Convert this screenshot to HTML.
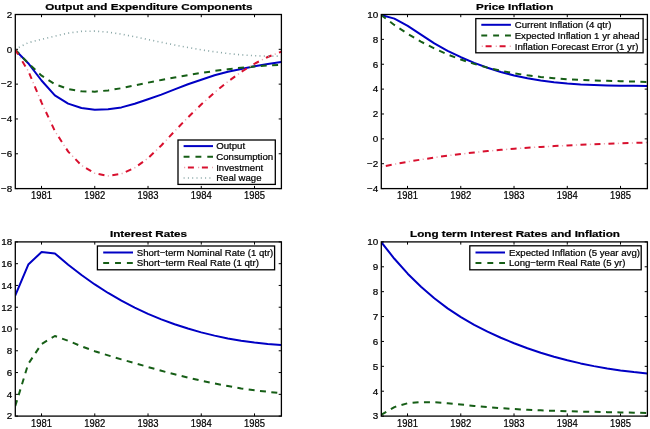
<!DOCTYPE html><html><head><meta charset="utf-8"><style>html,body{margin:0;padding:0;background:#fff;width:650px;height:429px;overflow:hidden}svg{display:block}text{font-family:"Liberation Sans",sans-serif;fill:#000;stroke:#000;stroke-width:0.22px}svg{will-change:transform}</style></head><body>
<svg width="650" height="429" viewBox="0 0 650 429">
<rect width="650" height="429" fill="#fff"/>
<defs><clipPath id="cTL"><rect x="15.3" y="13.5" width="266.09999999999997" height="176.1"/></clipPath><clipPath id="cTR"><rect x="381.3" y="13.5" width="266.09999999999997" height="176.1"/></clipPath><clipPath id="cBL"><rect x="15.3" y="240.9" width="266.09999999999997" height="176.20000000000002"/></clipPath><clipPath id="cBR"><rect x="381.3" y="240.9" width="266.09999999999997" height="176.20000000000002"/></clipPath></defs>
<path d="M41.52,188.60v-2.7 M41.52,14.50v2.7" stroke="#000" stroke-width="1"/>
<text x="31.02" y="199.00" font-size="10.3" textLength="21.0" lengthAdjust="spacingAndGlyphs">1981</text>
<path d="M94.78,188.60v-2.7 M94.78,14.50v2.7" stroke="#000" stroke-width="1"/>
<text x="84.28" y="199.00" font-size="10.3" textLength="21.0" lengthAdjust="spacingAndGlyphs">1982</text>
<path d="M148.03,188.60v-2.7 M148.03,14.50v2.7" stroke="#000" stroke-width="1"/>
<text x="137.53" y="199.00" font-size="10.3" textLength="21.0" lengthAdjust="spacingAndGlyphs">1983</text>
<path d="M201.28,188.60v-2.7 M201.28,14.50v2.7" stroke="#000" stroke-width="1"/>
<text x="190.78" y="199.00" font-size="10.3" textLength="21.0" lengthAdjust="spacingAndGlyphs">1984</text>
<path d="M254.53,188.60v-2.7 M254.53,14.50v2.7" stroke="#000" stroke-width="1"/>
<text x="244.03" y="199.00" font-size="10.3" textLength="21.0" lengthAdjust="spacingAndGlyphs">1985</text>
<path d="M15.30,14.50h2.7 M281.40,14.50h-2.7" stroke="#000" stroke-width="1"/>
<text x="12.30" y="17.80" font-size="9.9" text-anchor="end">2</text>
<path d="M15.30,49.32h2.7 M281.40,49.32h-2.7" stroke="#000" stroke-width="1"/>
<text x="12.30" y="52.62" font-size="9.9" text-anchor="end">0</text>
<path d="M15.30,84.14h2.7 M281.40,84.14h-2.7" stroke="#000" stroke-width="1"/>
<text x="12.30" y="87.44" font-size="9.9" text-anchor="end">−2</text>
<path d="M15.30,118.96h2.7 M281.40,118.96h-2.7" stroke="#000" stroke-width="1"/>
<text x="12.30" y="122.26" font-size="9.9" text-anchor="end">−4</text>
<path d="M15.30,153.78h2.7 M281.40,153.78h-2.7" stroke="#000" stroke-width="1"/>
<text x="12.30" y="157.08" font-size="9.9" text-anchor="end">−6</text>
<path d="M15.30,188.60h2.7 M281.40,188.60h-2.7" stroke="#000" stroke-width="1"/>
<text x="12.30" y="191.90" font-size="9.9" text-anchor="end">−8</text>
<text x="45.30" y="9.60" font-size="9.6" font-weight="bold" textLength="207.2" lengthAdjust="spacingAndGlyphs">Output and Expenditure Components</text>
<path d="M14.90,49.60 L28.21,63.20 L41.52,80.50 L54.84,95.30 L68.15,103.60 L81.46,108.00 L94.78,109.70 L108.09,109.20 L121.40,107.40 L134.71,103.70 L148.03,99.30 L161.34,94.60 L174.65,89.40 L187.96,84.30 L201.28,79.80 L214.59,75.20 L227.90,71.80 L241.21,69.00 L254.53,66.30 L267.84,64.00 L281.15,62.00" fill="none" stroke="#0000c4" stroke-width="2.0" stroke-linejoin="round" clip-path="url(#cTL)"/>
<path d="M15.00,49.38 L28.30,63.23 L41.60,75.65 L54.90,84.17 L68.20,89.06 L81.50,91.34 L94.80,91.64 L108.10,90.43 L121.40,88.20 L134.70,85.45 L148.00,82.64 L161.30,79.97 L174.60,77.45 L187.90,75.10 L201.20,72.94 L214.50,70.98 L227.80,69.24 L241.10,67.74 L254.40,66.49 L267.70,65.50 L281.20,64.80" fill="none" stroke="#165e16" stroke-width="2.0" stroke-dasharray="6 5.4" stroke-linejoin="round" clip-path="url(#cTL)"/>
<path d="M15.00,49.40 L28.30,71.11 L41.60,102.61 L54.90,131.11 L68.20,151.64 L81.50,165.42 L94.80,173.29 L108.10,175.91 L121.40,173.88 L134.70,167.84 L148.00,158.27 L161.30,145.48 L174.60,131.21 L187.90,117.44 L201.20,104.48 L214.50,92.51 L227.80,81.65 L241.10,72.03 L254.40,63.77 L267.70,57.01 L281.20,51.80" fill="none" stroke="#d8102e" stroke-width="2.0" stroke-dasharray="6 8" stroke-linejoin="round" clip-path="url(#cTL)"/><path d="M15.00,49.40 L28.30,71.11 L41.60,102.61 L54.90,131.11 L68.20,151.64 L81.50,165.42 L94.80,173.29 L108.10,175.91 L121.40,173.88 L134.70,167.84 L148.00,158.27 L161.30,145.48 L174.60,131.21 L187.90,117.44 L201.20,104.48 L214.50,92.51 L227.80,81.65 L241.10,72.03 L254.40,63.77 L267.70,57.01 L281.20,51.80" fill="none" stroke="#e9a6b0" stroke-width="1.5" stroke-dasharray="1.2 12.8" stroke-dashoffset="-9.4" clip-path="url(#cTL)"/>
<path d="M15.00,49.36 L28.30,42.66 L41.60,39.36 L54.90,36.15 L68.20,33.12 L81.50,31.33 L94.80,31.12 L108.10,32.18 L121.40,34.16 L134.70,36.73 L148.00,39.54 L161.30,42.32 L174.60,44.99 L187.90,47.50 L201.20,49.78 L214.50,51.80 L227.80,53.51 L241.10,54.84 L254.40,55.74 L267.70,56.18 L281.20,56.08" fill="none" stroke="#86a4a4" stroke-width="1.6" stroke-dasharray="1.0 3.3" stroke-linejoin="round" clip-path="url(#cTL)"/>
<rect x="178" y="140" width="97.30" height="44.40" fill="#fff" stroke="#000" stroke-width="1.3"/>
<path d="M183.6,146.1H213" fill="none" stroke="#0000c4" stroke-width="2.0"/>
<text x="216.2" y="149.30" font-size="9.5" textLength="29" lengthAdjust="spacingAndGlyphs">Output</text>
<path d="M183.6,156.8H213" fill="none" stroke="#165e16" stroke-width="2.0" stroke-dasharray="5.9 5.95"/>
<text x="216.2" y="160.00" font-size="9.5" textLength="57" lengthAdjust="spacingAndGlyphs">Consumption</text>
<path d="M183.6,167.4H213" fill="none" stroke="#d8102e" stroke-width="2.0" stroke-dasharray="6 8" stroke-dashoffset="-4.3"/>
<path d="M183.6,167.4H213" fill="none" stroke="#e9a6b0" stroke-width="1.5" stroke-dasharray="1.2 12.8" stroke-dashoffset="-0.4"/>
<text x="216.2" y="170.60" font-size="9.5" textLength="47" lengthAdjust="spacingAndGlyphs">Investment</text>
<path d="M183.6,178.0H213" fill="none" stroke="#86a4a4" stroke-width="1.6" stroke-dasharray="1.0 3.3"/>
<text x="216.2" y="181.20" font-size="9.5" textLength="45.3" lengthAdjust="spacingAndGlyphs">Real wage</text>
<rect x="15.30" y="14.50" width="266.10" height="174.10" fill="none" stroke="#000" stroke-width="1.3"/>
<path d="M407.53,188.60v-2.7 M407.53,14.50v2.7" stroke="#000" stroke-width="1"/>
<text x="397.03" y="199.00" font-size="10.3" textLength="21.0" lengthAdjust="spacingAndGlyphs">1981</text>
<path d="M460.78,188.60v-2.7 M460.78,14.50v2.7" stroke="#000" stroke-width="1"/>
<text x="450.28" y="199.00" font-size="10.3" textLength="21.0" lengthAdjust="spacingAndGlyphs">1982</text>
<path d="M514.03,188.60v-2.7 M514.03,14.50v2.7" stroke="#000" stroke-width="1"/>
<text x="503.53" y="199.00" font-size="10.3" textLength="21.0" lengthAdjust="spacingAndGlyphs">1983</text>
<path d="M567.28,188.60v-2.7 M567.28,14.50v2.7" stroke="#000" stroke-width="1"/>
<text x="556.78" y="199.00" font-size="10.3" textLength="21.0" lengthAdjust="spacingAndGlyphs">1984</text>
<path d="M620.53,188.60v-2.7 M620.53,14.50v2.7" stroke="#000" stroke-width="1"/>
<text x="610.03" y="199.00" font-size="10.3" textLength="21.0" lengthAdjust="spacingAndGlyphs">1985</text>
<path d="M381.30,14.50h2.7 M647.40,14.50h-2.7" stroke="#000" stroke-width="1"/>
<text x="378.30" y="17.80" font-size="9.9" text-anchor="end">10</text>
<path d="M381.30,39.37h2.7 M647.40,39.37h-2.7" stroke="#000" stroke-width="1"/>
<text x="378.30" y="42.67" font-size="9.9" text-anchor="end">8</text>
<path d="M381.30,64.24h2.7 M647.40,64.24h-2.7" stroke="#000" stroke-width="1"/>
<text x="378.30" y="67.54" font-size="9.9" text-anchor="end">6</text>
<path d="M381.30,89.11h2.7 M647.40,89.11h-2.7" stroke="#000" stroke-width="1"/>
<text x="378.30" y="92.41" font-size="9.9" text-anchor="end">4</text>
<path d="M381.30,113.99h2.7 M647.40,113.99h-2.7" stroke="#000" stroke-width="1"/>
<text x="378.30" y="117.29" font-size="9.9" text-anchor="end">2</text>
<path d="M381.30,138.86h2.7 M647.40,138.86h-2.7" stroke="#000" stroke-width="1"/>
<text x="378.30" y="142.16" font-size="9.9" text-anchor="end">0</text>
<path d="M381.30,163.73h2.7 M647.40,163.73h-2.7" stroke="#000" stroke-width="1"/>
<text x="378.30" y="167.03" font-size="9.9" text-anchor="end">−2</text>
<path d="M381.30,188.60h2.7 M647.40,188.60h-2.7" stroke="#000" stroke-width="1"/>
<text x="378.30" y="191.90" font-size="9.9" text-anchor="end">−4</text>
<text x="476.10" y="9.60" font-size="9.6" font-weight="bold" textLength="77.2" lengthAdjust="spacingAndGlyphs">Price Inflation</text>
<path d="M381.10,14.89 L394.40,18.65 L407.70,25.80 L421.00,34.63 L434.30,43.41 L447.60,50.87 L460.90,57.21 L474.20,62.85 L487.50,67.81 L500.80,72.00 L514.10,75.48 L527.40,78.31 L540.70,80.56 L554.00,82.30 L567.30,83.59 L580.60,84.51 L593.90,85.12 L607.20,85.50 L620.50,85.71 L633.80,85.82 L647.20,85.90" fill="none" stroke="#0000c4" stroke-width="2.0" stroke-linejoin="round" clip-path="url(#cTR)"/>
<path d="M381.00,14.96 L394.30,24.93 L407.60,33.78 L420.90,41.60 L434.20,48.45 L447.50,54.41 L460.80,59.54 L474.10,63.91 L487.40,67.61 L500.70,70.70 L514.00,73.24 L527.30,75.30 L540.60,76.94 L553.90,78.21 L567.20,79.17 L580.50,79.89 L593.80,80.43 L607.10,80.84 L620.40,81.18 L633.70,81.52 L647.00,81.91" fill="none" stroke="#165e16" stroke-width="2.0" stroke-dasharray="6 5.4" stroke-linejoin="round" clip-path="url(#cTR)"/>
<path d="M381.30,166.79 L394.60,164.17 L407.90,161.76 L421.20,159.55 L434.50,157.52 L447.80,155.67 L461.10,153.99 L474.40,152.47 L487.70,151.09 L501.00,149.86 L514.30,148.75 L527.60,147.76 L540.90,146.88 L554.20,146.09 L567.50,145.40 L580.80,144.78 L594.10,144.23 L607.40,143.73 L620.70,143.29 L634.00,142.88 L647.40,142.49" fill="none" stroke="#d8102e" stroke-width="2.0" stroke-dasharray="6 8" stroke-dashoffset="-4.6" stroke-linejoin="round" clip-path="url(#cTR)"/><path d="M381.30,166.79 L394.60,164.17 L407.90,161.76 L421.20,159.55 L434.50,157.52 L447.80,155.67 L461.10,153.99 L474.40,152.47 L487.70,151.09 L501.00,149.86 L514.30,148.75 L527.60,147.76 L540.90,146.88 L554.20,146.09 L567.50,145.40 L580.80,144.78 L594.10,144.23 L607.40,143.73 L620.70,143.29 L634.00,142.88 L647.40,142.49" fill="none" stroke="#e9a6b0" stroke-width="1.5" stroke-dasharray="1.2 12.8" stroke-dashoffset="-0.0" clip-path="url(#cTR)"/>
<rect x="475.8" y="18.6" width="167.30" height="34.20" fill="#fff" stroke="#000" stroke-width="1.3"/>
<path d="M481.3,24.8H510.9" fill="none" stroke="#0000c4" stroke-width="2.0"/>
<text x="514.7" y="28.00" font-size="9.5" textLength="96.7" lengthAdjust="spacingAndGlyphs">Current Inflation (4 qtr)</text>
<path d="M481.3,35.6H510.9" fill="none" stroke="#165e16" stroke-width="2.0" stroke-dasharray="5.9 5.95"/>
<text x="514.7" y="38.80" font-size="9.5" textLength="125" lengthAdjust="spacingAndGlyphs">Expected Inflation 1 yr ahead</text>
<path d="M481.3,46.3H510.9" fill="none" stroke="#d8102e" stroke-width="2.0" stroke-dasharray="6 8" stroke-dashoffset="-4.3"/>
<path d="M481.3,46.3H510.9" fill="none" stroke="#e9a6b0" stroke-width="1.5" stroke-dasharray="1.2 12.8" stroke-dashoffset="-0.4"/>
<text x="514.7" y="49.50" font-size="9.5" textLength="123.7" lengthAdjust="spacingAndGlyphs">Inflation Forecast Error (1 yr)</text>
<rect x="381.30" y="14.50" width="266.10" height="174.10" fill="none" stroke="#000" stroke-width="1.3"/>
<path d="M41.52,416.10v-2.7 M41.52,241.90v2.7" stroke="#000" stroke-width="1"/>
<text x="31.02" y="426.50" font-size="10.3" textLength="21.0" lengthAdjust="spacingAndGlyphs">1981</text>
<path d="M94.78,416.10v-2.7 M94.78,241.90v2.7" stroke="#000" stroke-width="1"/>
<text x="84.28" y="426.50" font-size="10.3" textLength="21.0" lengthAdjust="spacingAndGlyphs">1982</text>
<path d="M148.03,416.10v-2.7 M148.03,241.90v2.7" stroke="#000" stroke-width="1"/>
<text x="137.53" y="426.50" font-size="10.3" textLength="21.0" lengthAdjust="spacingAndGlyphs">1983</text>
<path d="M201.28,416.10v-2.7 M201.28,241.90v2.7" stroke="#000" stroke-width="1"/>
<text x="190.78" y="426.50" font-size="10.3" textLength="21.0" lengthAdjust="spacingAndGlyphs">1984</text>
<path d="M254.53,416.10v-2.7 M254.53,241.90v2.7" stroke="#000" stroke-width="1"/>
<text x="244.03" y="426.50" font-size="10.3" textLength="21.0" lengthAdjust="spacingAndGlyphs">1985</text>
<path d="M15.30,241.90h2.7 M281.40,241.90h-2.7" stroke="#000" stroke-width="1"/>
<text x="12.30" y="245.20" font-size="9.9" text-anchor="end">18</text>
<path d="M15.30,263.68h2.7 M281.40,263.68h-2.7" stroke="#000" stroke-width="1"/>
<text x="12.30" y="266.98" font-size="9.9" text-anchor="end">16</text>
<path d="M15.30,285.45h2.7 M281.40,285.45h-2.7" stroke="#000" stroke-width="1"/>
<text x="12.30" y="288.75" font-size="9.9" text-anchor="end">14</text>
<path d="M15.30,307.23h2.7 M281.40,307.23h-2.7" stroke="#000" stroke-width="1"/>
<text x="12.30" y="310.53" font-size="9.9" text-anchor="end">12</text>
<path d="M15.30,329.00h2.7 M281.40,329.00h-2.7" stroke="#000" stroke-width="1"/>
<text x="12.30" y="332.30" font-size="9.9" text-anchor="end">10</text>
<path d="M15.30,350.78h2.7 M281.40,350.78h-2.7" stroke="#000" stroke-width="1"/>
<text x="12.30" y="354.08" font-size="9.9" text-anchor="end">8</text>
<path d="M15.30,372.55h2.7 M281.40,372.55h-2.7" stroke="#000" stroke-width="1"/>
<text x="12.30" y="375.85" font-size="9.9" text-anchor="end">6</text>
<path d="M15.30,394.33h2.7 M281.40,394.33h-2.7" stroke="#000" stroke-width="1"/>
<text x="12.30" y="397.63" font-size="9.9" text-anchor="end">4</text>
<path d="M15.30,416.10h2.7 M281.40,416.10h-2.7" stroke="#000" stroke-width="1"/>
<text x="12.30" y="419.40" font-size="9.9" text-anchor="end">2</text>
<text x="110.00" y="237.00" font-size="9.6" font-weight="bold" textLength="77.0" lengthAdjust="spacingAndGlyphs">Interest Rates</text>
<path d="M15.00,296.00 L28.30,264.60 L41.60,252.00 L54.90,253.41 L68.20,264.72 L81.50,275.05 L94.80,284.45 L108.10,292.98 L121.40,300.68 L134.70,307.60 L148.00,313.80 L161.30,319.32 L174.60,324.22 L187.90,328.55 L201.20,332.35 L214.50,335.62 L227.80,338.40 L241.10,340.72 L254.40,342.58 L267.70,344.01 L281.00,345.05" fill="none" stroke="#0000c4" stroke-width="2.0" stroke-linejoin="round" clip-path="url(#cBL)"/>
<path d="M15.30,406.00 L28.21,364.00 L41.52,344.00 L54.84,336.00 L68.15,340.80 L81.46,346.30 L94.78,351.20 L108.09,355.40 L121.40,359.40 L134.71,363.10 L148.03,367.00 L161.34,370.80 L174.65,374.30 L187.96,377.60 L201.28,380.70 L214.59,383.50 L227.90,386.00 L241.21,388.50 L254.53,390.30 L267.84,391.80 L281.40,393.20" fill="none" stroke="#165e16" stroke-width="2.0" stroke-dasharray="6 5.4" stroke-linejoin="round" clip-path="url(#cBL)"/>
<rect x="97.4" y="246" width="177.20" height="23.80" fill="#fff" stroke="#000" stroke-width="1.3"/>
<path d="M103.2,252.5H133" fill="none" stroke="#0000c4" stroke-width="2.0"/>
<text x="136.8" y="255.70" font-size="9.5" textLength="136.5" lengthAdjust="spacingAndGlyphs">Short−term Nominal Rate (1 qtr)</text>
<path d="M103.2,263.0H133" fill="none" stroke="#165e16" stroke-width="2.0" stroke-dasharray="5.9 5.95"/>
<text x="136.8" y="266.20" font-size="9.5" textLength="122.2" lengthAdjust="spacingAndGlyphs">Short−term Real Rate (1 qtr)</text>
<rect x="15.30" y="241.90" width="266.10" height="174.20" fill="none" stroke="#000" stroke-width="1.3"/>
<path d="M407.53,416.10v-2.7 M407.53,241.90v2.7" stroke="#000" stroke-width="1"/>
<text x="397.03" y="426.50" font-size="10.3" textLength="21.0" lengthAdjust="spacingAndGlyphs">1981</text>
<path d="M460.78,416.10v-2.7 M460.78,241.90v2.7" stroke="#000" stroke-width="1"/>
<text x="450.28" y="426.50" font-size="10.3" textLength="21.0" lengthAdjust="spacingAndGlyphs">1982</text>
<path d="M514.03,416.10v-2.7 M514.03,241.90v2.7" stroke="#000" stroke-width="1"/>
<text x="503.53" y="426.50" font-size="10.3" textLength="21.0" lengthAdjust="spacingAndGlyphs">1983</text>
<path d="M567.28,416.10v-2.7 M567.28,241.90v2.7" stroke="#000" stroke-width="1"/>
<text x="556.78" y="426.50" font-size="10.3" textLength="21.0" lengthAdjust="spacingAndGlyphs">1984</text>
<path d="M620.53,416.10v-2.7 M620.53,241.90v2.7" stroke="#000" stroke-width="1"/>
<text x="610.03" y="426.50" font-size="10.3" textLength="21.0" lengthAdjust="spacingAndGlyphs">1985</text>
<path d="M381.30,241.90h2.7 M647.40,241.90h-2.7" stroke="#000" stroke-width="1"/>
<text x="378.30" y="245.20" font-size="9.9" text-anchor="end">10</text>
<path d="M381.30,266.79h2.7 M647.40,266.79h-2.7" stroke="#000" stroke-width="1"/>
<text x="378.30" y="270.09" font-size="9.9" text-anchor="end">9</text>
<path d="M381.30,291.67h2.7 M647.40,291.67h-2.7" stroke="#000" stroke-width="1"/>
<text x="378.30" y="294.97" font-size="9.9" text-anchor="end">8</text>
<path d="M381.30,316.56h2.7 M647.40,316.56h-2.7" stroke="#000" stroke-width="1"/>
<text x="378.30" y="319.86" font-size="9.9" text-anchor="end">7</text>
<path d="M381.30,341.44h2.7 M647.40,341.44h-2.7" stroke="#000" stroke-width="1"/>
<text x="378.30" y="344.74" font-size="9.9" text-anchor="end">6</text>
<path d="M381.30,366.33h2.7 M647.40,366.33h-2.7" stroke="#000" stroke-width="1"/>
<text x="378.30" y="369.63" font-size="9.9" text-anchor="end">5</text>
<path d="M381.30,391.21h2.7 M647.40,391.21h-2.7" stroke="#000" stroke-width="1"/>
<text x="378.30" y="394.51" font-size="9.9" text-anchor="end">4</text>
<path d="M381.30,416.10h2.7 M647.40,416.10h-2.7" stroke="#000" stroke-width="1"/>
<text x="378.30" y="419.40" font-size="9.9" text-anchor="end">3</text>
<text x="410.00" y="237.00" font-size="9.6" font-weight="bold" textLength="210.0" lengthAdjust="spacingAndGlyphs">Long term Interest Rates and Inflation</text>
<path d="M381.10,241.90 L394.40,258.79 L407.70,273.70 L421.00,286.80 L434.30,298.29 L447.60,308.33 L460.90,317.12 L474.20,324.82 L487.50,331.63 L500.80,337.72 L514.10,343.24 L527.40,348.24 L540.70,352.72 L554.00,356.73 L567.30,360.28 L580.60,363.40 L593.90,366.12 L607.20,368.46 L620.50,370.44 L633.80,372.09 L647.20,373.45" fill="none" stroke="#0000c4" stroke-width="2.0" stroke-linejoin="round" clip-path="url(#cBR)"/>
<path d="M381.10,414.97 L394.40,407.09 L407.70,403.26 L421.00,402.10 L434.30,402.29 L447.60,403.20 L460.90,404.51 L474.20,405.90 L487.50,407.12 L500.80,408.16 L514.10,409.03 L527.40,409.75 L540.70,410.34 L554.00,410.83 L567.30,411.23 L580.60,411.57 L593.90,411.86 L607.20,412.13 L620.50,412.40 L633.80,412.68 L647.20,413.01" fill="none" stroke="#165e16" stroke-width="2.0" stroke-dasharray="6 5.4" stroke-linejoin="round" clip-path="url(#cBR)"/>
<rect x="469.8" y="245.8" width="171.40" height="24.00" fill="#fff" stroke="#000" stroke-width="1.3"/>
<path d="M475.5,252.5H505" fill="none" stroke="#0000c4" stroke-width="2.0"/>
<text x="509" y="255.70" font-size="9.5" textLength="131" lengthAdjust="spacingAndGlyphs">Expected Inflation (5 year avg)</text>
<path d="M475.5,263.0H505" fill="none" stroke="#165e16" stroke-width="2.0" stroke-dasharray="5.9 5.95"/>
<text x="509" y="266.20" font-size="9.5" textLength="116.5" lengthAdjust="spacingAndGlyphs">Long−term Real Rate (5 yr)</text>
<rect x="381.30" y="241.90" width="266.10" height="174.20" fill="none" stroke="#000" stroke-width="1.3"/>
</svg></body></html>
